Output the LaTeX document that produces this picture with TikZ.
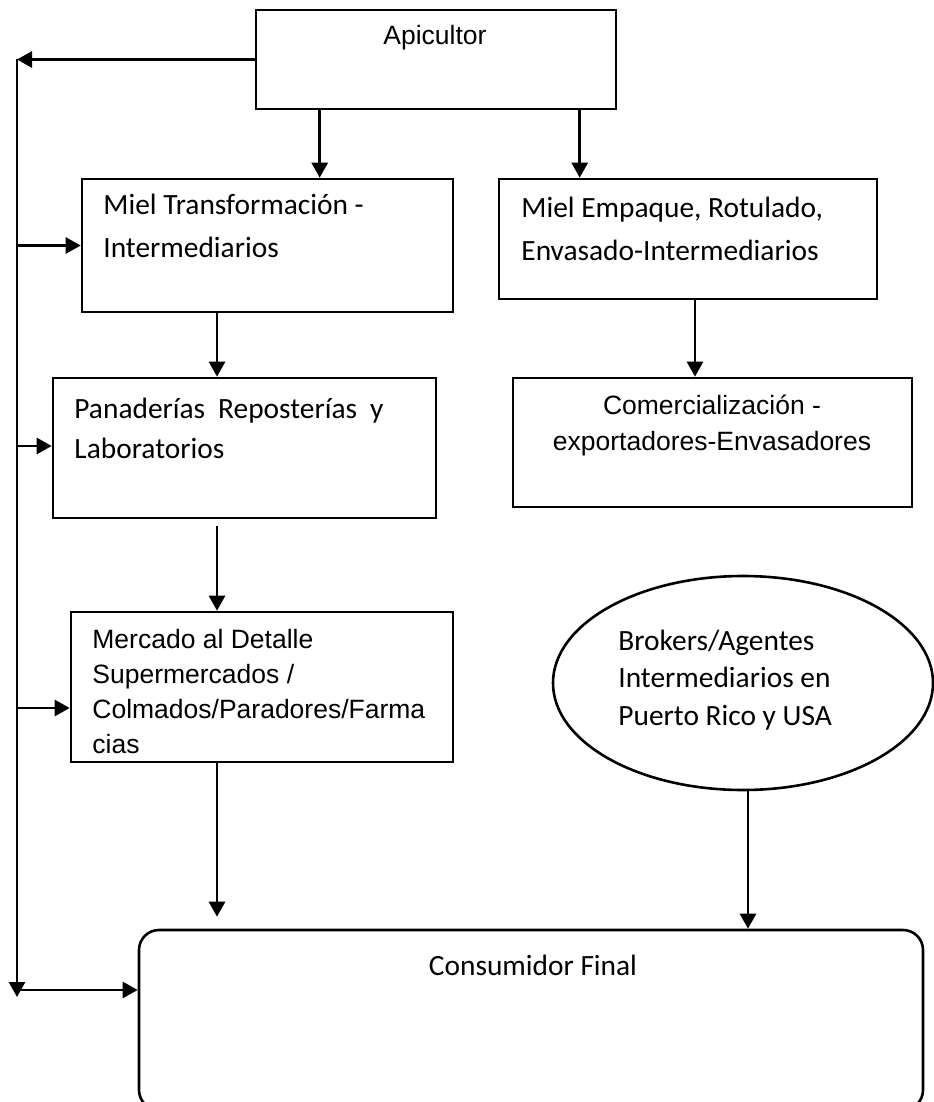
\documentclass[tikz,border=0pt]{standalone}
\usepackage{fontspec}
\setmainfont{Carlito}
\newfontfamily\arialfont{Liberation Sans}
\usetikzlibrary{calc}
\usetikzlibrary{arrows.meta}
\usetikzlibrary{shapes.geometric}

\begin{document}
\begin{tikzpicture}[x=0.5pt,y=-0.5pt,
  box/.style={draw, line width=1.3pt, inner sep=0pt},
  txt/.style={anchor=base west, inner sep=0pt, align=left, font=\fontsize{14.7}{21.5}\selectfont},
  atxt/.style={txt, font=\arialfont\fontsize{13.25}{18}\selectfont},
  flow/.style={line width=1.35pt, -{Triangle[length=7.5pt,width=8pt]}}]
\useasboundingbox (0,0) rectangle (933,1102);

% boxes
\node[box, minimum width=180pt, minimum height=49.5pt] (api) at (436,59.5) {};
\node[box, minimum width=185.5pt, minimum height=66.5pt] (mtr) at (267.5,245.5) {};
\node[box, minimum width=189pt, minimum height=60pt] (emp) at (688,239) {};
\node[box, minimum width=191.5pt, minimum height=70pt] (pan) at (244.5,448) {};
\node[box, minimum width=199.5pt, minimum height=64.5pt] (com) at (712.5,442.5) {};
\node[box, minimum width=191pt, minimum height=75pt] (mer) at (262,687) {};
\node[box, ellipse, minimum width=190pt, minimum height=107pt] (ell) at (743,683) {};
\node[box, rounded corners=10pt, minimum width=392pt, minimum height=90pt] (cons) at (531,1020) {};

% texts (base = last line)
\node[atxt, anchor=base] (apit) at (435,45) {Apicultor};
\node[txt] (mtrt) at (103,257) {Miel Transformación -\\Intermediarios};
\node[txt] (empt) at (521,260) {Miel Empaque, Rotulado,\\Envasado-Intermediarios};
\node[txt, font=\fontsize{14.7}{20}\selectfont] (pant) at (74,458)
  {\makebox[154.5pt][s]{Panaderías Reposterías y}\\Laboratorios};
\node[atxt, anchor=base, align=center] (comt) at (712,450) {Comercialización -\\exportadores-Envasadores};
\node[atxt, font=\arialfont\fontsize{13.25}{17.5}\selectfont] (mert) at (92,753)
  {Mercado al Detalle\\Supermercados /\\Colmados/Paradores/Farma\\cias};
\node[txt, font=\fontsize{14.7}{18.75}\selectfont] (ellt) at (618,725)
  {Brokers/Agentes\\Intermediarios en\\Puerto Rico y USA};
\node[txt, anchor=base] (const) at (533,975) {Consumidor Final};

% left feed line
\coordinate (top) at (17,59.5);
\coordinate (bot) at (17,997);
\draw[flow] (api.west) -- (top);
\draw[flow] (top) -- (bot);
\draw[flow] (top |- mtr.west) -- (mtr.west);
\draw[flow] ($(top |- pan.west)+(0,-2)$) -- ($(pan.west)+(0,-2)$);
\draw[flow] ($(top |- mer.west)+(0,21)$) -- ($(mer.west)+(0,21)$);
\draw[flow] ($(top |- cons.west)+(0,-30)$) -- ($(cons.west)+(0,-30)$);

% down arrows
\draw[flow] ([xshift=32.5pt]api.south west) -- ([xshift=32.5pt]api.south west |- mtr.north);
\draw[flow] ([xshift=162.5pt]api.south west) -- ([xshift=162.5pt]api.south west |- emp.north);
\draw[flow] ([xshift=3.5pt]emp.south) -- ([xshift=3.5pt]emp.south |- com.north);
\draw[flow] ([xshift=-25.25pt]mtr.south) -- ([xshift=-25.25pt]mtr.south |- pan.north);
\draw[flow] ([xshift=-13.75pt,yshift=-3.5pt]pan.south) -- ([xshift=-13.75pt]pan.south |- mer.north);
\draw[flow] ([xshift=-22.5pt]mer.south) -- ([xshift=-22.5pt,yshift=6pt]mer.south |- cons.north);
\draw[flow] ([xshift=2.5pt]ell.south) -- ([xshift=2.5pt]ell.south |- cons.north);
\end{tikzpicture}
\end{document}
